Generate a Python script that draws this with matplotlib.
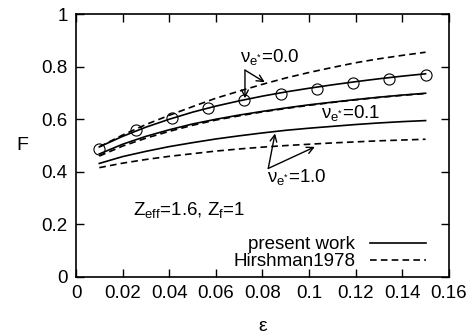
import matplotlib
matplotlib.use("Agg")
import matplotlib.pyplot as plt

plt.rcParams['font.family'] = ['Liberation Sans', 'DejaVu Sans']
plt.rcParams['mathtext.fontset'] = 'custom'
plt.rcParams['mathtext.rm'] = 'Liberation Sans'
plt.rcParams['mathtext.it'] = 'Liberation Sans'
plt.rcParams['mathtext.sf'] = 'Liberation Sans'

eps = [0.01, 0.02, 0.03, 0.04, 0.05, 0.06, 0.07, 0.08, 0.09, 0.10, 0.11, 0.12, 0.13, 0.14, 0.15]

present_nu00 = [0.495, 0.535, 0.570, 0.600, 0.627, 0.650, 0.670, 0.688, 0.704, 0.718, 0.731, 0.743, 0.754, 0.764, 0.773]
present_nu01 = [0.468, 0.505, 0.535, 0.560, 0.582, 0.600, 0.616, 0.630, 0.643, 0.655, 0.665, 0.675, 0.684, 0.692, 0.699]
present_nu10 = [0.432, 0.458, 0.478, 0.496, 0.511, 0.525, 0.537, 0.548, 0.558, 0.566, 0.573, 0.580, 0.586, 0.591, 0.595]

hirsh_nu00 = [0.495, 0.540, 0.580, 0.615, 0.648, 0.680, 0.707, 0.733, 0.757, 0.778, 0.797, 0.815, 0.830, 0.843, 0.855]
hirsh_nu01 = [0.460, 0.498, 0.528, 0.554, 0.577, 0.597, 0.613, 0.628, 0.641, 0.653, 0.664, 0.674, 0.683, 0.691, 0.698]
hirsh_nu10 = [0.416, 0.433, 0.447, 0.459, 0.469, 0.479, 0.487, 0.494, 0.500, 0.505, 0.510, 0.514, 0.518, 0.521, 0.524]

circ_eps = [0.01, 0.0256, 0.0411, 0.0567, 0.0722, 0.0878, 0.1033, 0.1189, 0.1344, 0.15]
circ_F = [0.487, 0.559, 0.606, 0.641, 0.673, 0.695, 0.717, 0.738, 0.752, 0.769]

xticks = [0, 0.02, 0.04, 0.06, 0.08, 0.1, 0.12, 0.14, 0.16]
xticklabels = ['0', '0.02', '0.04', '0.06', '0.08', '0.1', '0.12', '0.14', '0.16']
yticks = [0, 0.2, 0.4, 0.6, 0.8, 1.0]
yticklabels = ['0', '0.2', '0.4', '0.6', '0.8', '1']

fig = plt.figure(figsize=(4.75, 3.36), dpi=100)
ax = fig.add_axes([0.16, 0.1756, 0.785, 0.7824])

lw = 1.2
dash = (4, 2.5)
ax.plot(eps, present_nu00, 'k-', lw=lw, label='present work')
ax.plot(eps, present_nu01, 'k-', lw=lw)
ax.plot(eps, present_nu10, 'k-', lw=lw)
ax.plot(eps, hirsh_nu00, 'k--', lw=lw, dashes=dash, label='Hirshman1978')
ax.plot(eps, hirsh_nu01, 'k--', lw=lw, dashes=dash)
ax.plot(eps, hirsh_nu10, 'k--', lw=lw, dashes=dash)
ax.plot(circ_eps, circ_F, 'o', ms=8, mfc='none', mec='k', mew=0.8)

ax.set_xlim(0, 0.16)
ax.set_ylim(0, 1)
ax.set_xticks(xticks)
ax.set_xticklabels(xticklabels)
ax.set_yticks(yticks)
ax.set_yticklabels(yticklabels)
ax.tick_params(direction='in', length=6, width=1, top=True, right=True, labelsize=13.5, pad=6)
for s in ax.spines.values():
    s.set_linewidth(1.2)

ax.set_xlabel('ε', fontsize=14, labelpad=11)
ax.set_ylabel('F', fontsize=14, rotation=0, labelpad=14, va='center')

fs = 13.5
ax.text(0.0704, 0.836, r'$\mathrm{\nu}_{\mathrm{e}^{*}}$=0.0', fontsize=fs, va='center', ha='left')
ax.text(0.105, 0.622, r'$\mathrm{\nu}_{\mathrm{e}^{*}}$=0.1', fontsize=fs, va='center', ha='left')
ax.text(0.0818, 0.381, r'$\mathrm{\nu}_{\mathrm{e}^{*}}$=1.0', fontsize=fs, va='center', ha='left')
ax.text(0.0246, 0.255, r'Z$_{\mathrm{eff}}$=1.6, Z$_{\mathrm{f}}$=1', fontsize=fs, va='center', ha='left')

ap = dict(arrowstyle='->', lw=1.0, color='k', shrinkA=0, shrinkB=0, mutation_scale=12)
ax.annotate('', xy=(0.0725, 0.68), xytext=(0.0725, 0.787), arrowprops=ap)
ax.annotate('', xy=(0.081, 0.741), xytext=(0.0725, 0.787), arrowprops=ap)
ax.annotate('', xy=(0.0854, 0.546), xytext=(0.0825, 0.413), arrowprops=ap)
ax.annotate('', xy=(0.1025, 0.495), xytext=(0.0825, 0.413), arrowprops=ap)

ax.legend(loc='lower right', bbox_to_anchor=(0.975, -0.025), frameon=False, markerfirst=False,
          fontsize=fs, handlelength=3.0, handletextpad=0.8, labelspacing=0.0, borderpad=0.2)

fig.savefig('out.png', dpi=100)
